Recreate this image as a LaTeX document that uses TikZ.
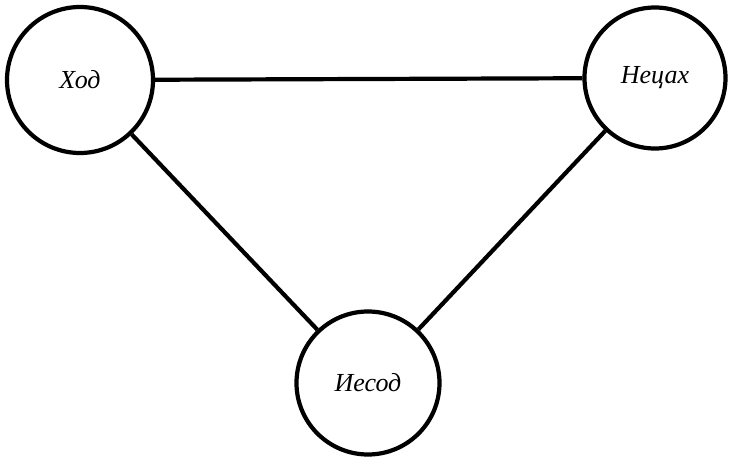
\documentclass[tikz,border=0pt]{standalone}
\usepackage{fontspec}
\setmainfont{Liberation Serif}
\usepackage{tikz}

\begin{document}
\begin{tikzpicture}[x=1pt,y=1pt,line width=4.2pt,
                        main node/.style={circle,draw,inner sep=0pt,minimum size=146pt,font=\fontsize{26}{30}\selectfont\itshape}]
    \useasboundingbox (0,0) rectangle (729,461);

          \node[main node] (hod) at (80,381) {Ход};
          \node[main node, minimum size=141pt] (netzah) at (655,383) {Нецах};
          \node[main node, minimum size=143pt] (yesod) at (368,78) {Иесод};

          \path
           (hod) edge (netzah)
           (hod) edge (yesod)
           (netzah) edge (yesod);
\end{tikzpicture}
\end{document}
